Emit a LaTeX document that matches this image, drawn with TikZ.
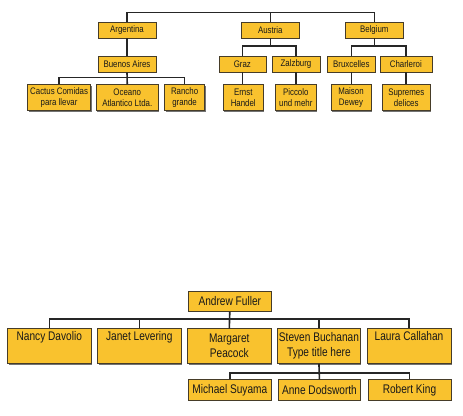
\documentclass[tikz,border=0pt]{standalone}
\usepackage{fontspec}
\newfontfamily\narA{Liberation Sans}[FakeStretch=0.83]
\newfontfamily\narB{Liberation Sans}[FakeStretch=0.81]
\usetikzlibrary{shadows}
\definecolor{boxfill}{RGB}{249,194,46}
\definecolor{boxline}{RGB}{70,60,40}
\begin{document}
\begin{tikzpicture}[x=1pt,y=-1pt,
  orgbox/.style={draw=boxline, line width=0.6pt, fill=boxfill, anchor=north west,
    inner sep=0pt, align=center, text=black!90,
    general shadow={fill=black!55, shadow xshift=0.9pt, shadow yshift=-0.9pt}},
  small/.style={orgbox, font=\narA\fontsize{9.5}{11.6}\selectfont},
  big/.style={orgbox, font=\narB\fontsize{12.5}{15}\selectfont},
  conn/.style={draw=black!85, line width=1.6pt}]
\useasboundingbox (0,0) rectangle (463,415);
\fill[white] (0,0) rectangle (463,415);

% ---------- top chart ----------
\node[small, minimum width=58pt, minimum height=16pt] (arg) at (97.7,21.7) {Argentina};
\node[small, minimum width=58pt, minimum height=16pt] (aus) at (241,21.7) {Austria};
\node[small, minimum width=58pt, minimum height=16pt] (bel) at (345,21.7) {Belgium};

\node[small, minimum width=58pt, minimum height=16pt] (bue) at (97.7,55.7) {Buenos Aires};
\node[small, minimum width=47pt, minimum height=16pt] (gra) at (218.5,55.7) {Graz};
\node[small, minimum width=48pt, minimum height=16pt] (zal) at (271.7,55.7) {Zalzburg};
\node[small, minimum width=47.5pt, minimum height=16pt] (bru) at (327.3,55.7) {Bruxcelles};
\node[small, minimum width=52pt, minimum height=16pt] (cha) at (379.5,55.7) {Charleroi};

\node[small, minimum width=63pt, minimum height=26pt] (cac) at (27.3,84.3) {Cactus Comidas\\para llevar};
\node[small, minimum width=62.5pt, minimum height=26pt] (oce) at (95.7,84.3) {Oceano\\Atlantico Ltda.};
\node[small, minimum width=40pt, minimum height=26pt] (ran) at (164.3,84.3) {Rancho\\grande};
\node[small, minimum width=40.5pt, minimum height=26pt] (ern) at (222.7,84.3) {Ernst\\Handel};
\node[small, minimum width=41pt, minimum height=26pt] (pic) at (275,84.3) {Piccolo\\und mehr};
\node[small, minimum width=40pt, minimum height=26pt] (mai) at (330.7,84.3) {Maison\\Dewey};
\node[small, minimum width=48.5pt, minimum height=26pt] (sup) at (381.7,84.3) {Supremes\\delices};

\coordinate (bus0) at (0,12.5);
\coordinate (busA) at (0,77.3);
\coordinate (busB) at (0,46);

\draw[conn] (arg.north) -- (arg.north |- bus0) -- (bel.north |- bus0) -- (bel.north);
\draw[conn] (aus.north) -- (aus.north |- bus0);

\draw[conn] (arg.south) -- (bue.north);
\draw[conn] (bue.south) -- (oce.north);
\draw[conn] (cac.north) -- (cac.north |- busA) -- (ran.north |- busA) -- (ran.north);

\draw[conn] (aus.south) -- (aus.south |- busB);
\draw[conn] (gra.north) -- (gra.north |- busB) -- (zal.north |- busB) -- (zal.north);
\draw[conn] (bel.south) -- (bel.south |- busB);
\draw[conn] (bru.north) -- (bru.north |- busB) -- (cha.north |- busB) -- (cha.north);

\draw[conn] (gra.south) -- (gra.south |- ern.north);
\draw[conn] (zal.south) -- (zal.south |- pic.north);
\draw[conn] (bru.south) -- (bru.south |- mai.north);
\draw[conn] (cha.south) -- (cha.south |- sup.north);

% ---------- bottom chart ----------
\node[big, minimum width=82.4pt, minimum height=20pt] (and) at (188.3,291) {Andrew Fuller};

\node[big, minimum width=83.4pt, minimum height=35pt] (nan) at (7.3,328.3) {Nancy Davolio\\\strut};
\node[big, minimum width=83.4pt, minimum height=35pt] (jan) at (97.3,328.3) {Janet Levering\\\strut};
\node[big, minimum width=83.4pt, minimum height=35pt] (mar) at (187.3,328.3) {Margaret\\Peacock};
\node[big, minimum width=82.7pt, minimum height=35pt] (ste) at (277.3,328.3) {Steven Buchanan\\Type title here};
\node[big, minimum width=84pt, minimum height=35pt] (lau) at (366.7,328.3) {Laura Callahan\\\strut};

\node[big, minimum width=82.4pt, minimum height=20.7pt] (mic) at (188.3,379.3) {Michael Suyama};
\node[big, minimum width=81.7pt, minimum height=20.7pt] (ann) at (278.3,379.3) {Anne Dodsworth};
\node[big, minimum width=83pt, minimum height=20.7pt] (rob) at (367.7,379.3) {Robert King};

\coordinate (busC) at (0,319);
\coordinate (busD) at (0,372.7);

\draw[conn] (and.south) -- (mar.north);
\draw[conn] (nan.north) -- (nan.north |- busC) -- (lau.north |- busC) -- (lau.north);
\draw[conn] (jan.north) -- (jan.north |- busC);
\draw[conn] (ste.north) -- (ste.north |- busC);

\draw[conn] (ste.south) -- (ann.north);
\draw[conn] (mic.north) -- (mic.north |- busD) -- (rob.north |- busD) -- (rob.north);
\end{tikzpicture}
\end{document}
